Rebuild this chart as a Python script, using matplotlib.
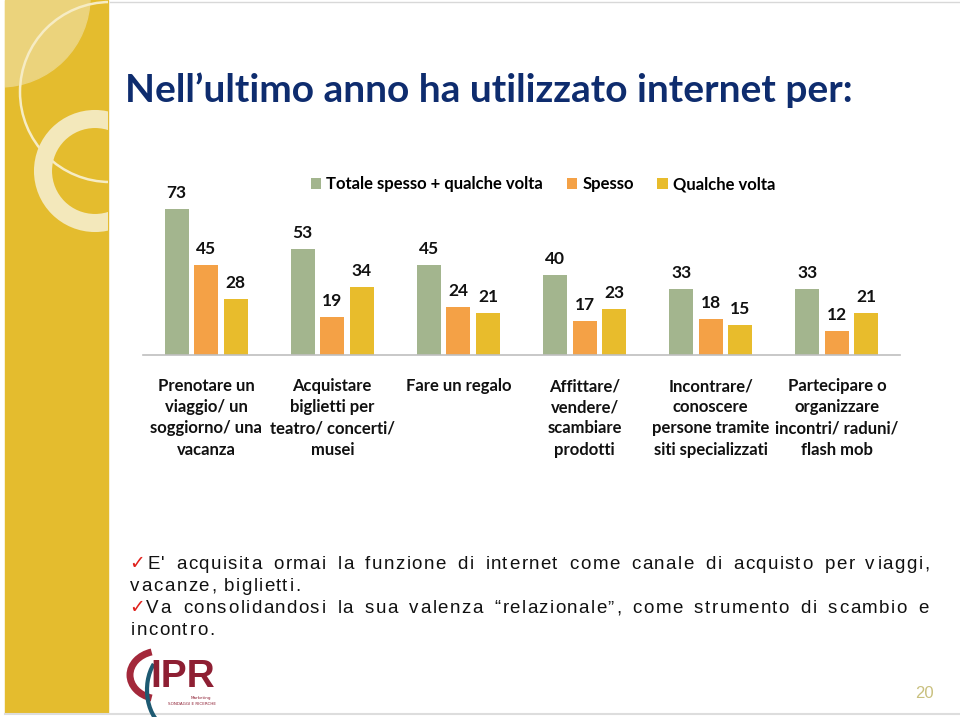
import numpy as np
import matplotlib
matplotlib.use("Agg")
import matplotlib.pyplot as plt
from matplotlib.patches import Rectangle, Circle, Arc
from matplotlib import font_manager
from matplotlib.ft2font import FT2Font

# data
categories = [
    "Prenotare un\nviaggio/ un\nsoggiorno/ una\nvacanza",
    "Acquistare\nbiglietti per\nteatro/ concerti/\nmusei",
    "Fare un regalo",
    "Affittare/\nvendere/\nscambiare\nprodotti",
    "Incontrare/\nconoscere\npersone tramite\nsiti specializzati",
    "Partecipare o\norganizzare\nincontri/ raduni/\nflash mob",
]
series_names = ["Totale spesso + qualche volta", "Spesso", "Qualche volta"]
totale = [73, 53, 45, 40, 33, 33]
spesso = [45, 19, 24, 17, 18, 12]
qualche = [28, 34, 21, 23, 15, 21]

title = "Nell\u2019ultimo anno ha utilizzato internet per:"
para1 = ["E' acquisita ormai la funzione di internet come canale di acquisto per viaggi,",
         "vacanze, biglietti."]
para2 = ["Va consolidandosi la sua valenza \u201crelazionale\u201d, come strumento di scambio e",
         "incontro."]

colors = ["#A3B58E", "#F4A146", "#E8BC2C"]
NAVY = "#0E2C6E"
PANEL = "#E4BC2E"
FONT = "Lato"
BODY = "Liberation Sans"
BODY_SIZE = 13.5

fig = plt.figure(figsize=(9.6, 7.17), dpi=100)

# background overlay in pixel coordinates
bg = fig.add_axes([0, 0, 1, 1], zorder=0)
bg.set_xlim(0, 960)
bg.set_ylim(717, 0)
bg.axis("off")

# left decorative panel
panel = bg.add_patch(Rectangle((5, 0), 103, 713, color=PANEL, zorder=1))
for deco in [Circle((0, -3), 90, color="#EBD37C", zorder=2),
             Circle((110, 92), 90, fill=False, ec="#F6ECC4", lw=1.8, zorder=3),
             Circle((95, 171), 52, fill=False, ec="#F3E8BB", lw=13, zorder=3)]:
    bg.add_patch(deco)
    deco.set_clip_path(panel)
bg.plot([110, 960], [2, 2], color="#D8D8D8", lw=1, zorder=1)
bg.plot([5, 960], [714, 714], color="#DDDDDD", lw=1.5, zorder=1)

# title
bg.text(125, 90, title, fontsize=28, fontweight="bold", color=NAVY,
        family=FONT, va="center", ha="left", zorder=5)

# bar chart
ax = fig.add_axes([143 / 960, 1 - 355 / 717, 757 / 960, 160 / 717], zorder=2)
ax.patch.set_alpha(0)
x = np.arange(len(categories))
width = 0.19
step = 0.234
for i, (vals, name) in enumerate(zip([totale, spesso, qualche], series_names)):
    pos = x + (i - 1) * step
    ax.bar(pos, vals, width, color=colors[i], label=name, zorder=2)
    for p, v in zip(pos, vals):
        ax.text(p, v + 4, str(v), ha="center", va="bottom", fontsize=12.5,
                fontweight="bold", family=FONT, color="#111111")

ax.set_xlim(-0.5, len(categories) - 0.5)
ax.set_ylim(0, 80)
ax.set_yticks([])
ax.set_xticks([])
for s in ["top", "right", "left"]:
    ax.spines[s].set_visible(False)
ax.spines["bottom"].set_color("#BFBFBF")
ax.spines["bottom"].set_linewidth(1.2)

for xi, cat in zip(x, categories):
    ax.text(xi, -11.5, cat, ha="center", va="top", fontsize=12, fontweight="bold",
            family=FONT, color="#111111", linespacing=1.4)

fig.legend(loc="center", bbox_to_anchor=(543 / 960, 1 - 184 / 717), ncol=3,
           frameon=False, prop={"family": FONT, "weight": "bold", "size": 12},
           handlelength=0.65, handleheight=0.65, handletextpad=0.3,
           columnspacing=1.4)

# body text with letter spacing, first lines justified
txt_kw = dict(fontsize=BODY_SIZE, family=BODY, color="#111111",
              va="baseline", ha="left", zorder=5)
ft = FT2Font(font_manager.findfont(font_manager.FontProperties(family=BODY)))
ft.set_size(BODY_SIZE, 100)
_glyphs = {}


def glyph(c):
    if c not in _glyphs:
        g = ft.load_char(ord(c))
        _glyphs[c] = (g.linearHoriAdvance / 65536, g.horiBearingX / 64)
    return _glyphs[c]


space = glyph(" ")[0]
ref = para1[1]
track = (169 - sum(glyph(c)[0] for c in ref)) / (len(ref) - 1)


def word_w(w):
    return sum(glyph(c)[0] for c in w) + track * (len(w) - 1)


def put_word(w, x0, y):
    cur = x0
    for c in w:
        adv, lsb = glyph(c)
        bg.text(cur + lsb, y, c, **txt_kw)
        cur += adv + track
    return cur


def tracked(line, x0, y):
    cur = x0
    for w in line.split(" "):
        cur = put_word(w, cur, y) + space + track


def justified(line, x0, x1, y):
    words = line.split(" ")
    gap = (x1 - x0 - sum(word_w(w) for w in words)) / (len(words) - 1)
    cur = x0
    for w in words:
        put_word(w, cur, y)
        cur += word_w(w) + gap


def check(y):
    bg.text(129, y, "\u2713", fontsize=13.5, family="DejaVu Sans",
            color="#E0201B", va="baseline", ha="left", zorder=5)

check(569)
justified(para1[0], 146, 928, 569)
tracked(para1[1], 130, 591)
check(613)
justified(para2[0], 146, 928, 613)
tracked(para2[1], 130, 635)

# logo
bg.add_patch(Arc((160, 675), 60, 48, theta1=110, theta2=250, ec="#A3283A", lw=5, zorder=5))
bg.add_patch(Arc((172, 690), 50, 76, theta1=100, theta2=235, ec="#1E5A72", lw=3, zorder=5))
bg.text(150, 687, "IPR", fontsize=28, fontweight="bold", family="Liberation Sans",
        color="#8E1F33", va="baseline", ha="left", zorder=6)
bg.text(211, 698, "Marketing", fontsize=3, color="#8E1F33", ha="right", va="center", zorder=6)
bg.text(216, 704, "SONDAGGI E RICERCHE", fontsize=3, color="#8E1F33", ha="right", va="center", zorder=6)

# page number
bg.text(924, 694, "20", fontsize=12, family="Liberation Sans", color="#C9C07E",
        ha="center", va="center", zorder=5)

fig.savefig("out.png", dpi=100)
